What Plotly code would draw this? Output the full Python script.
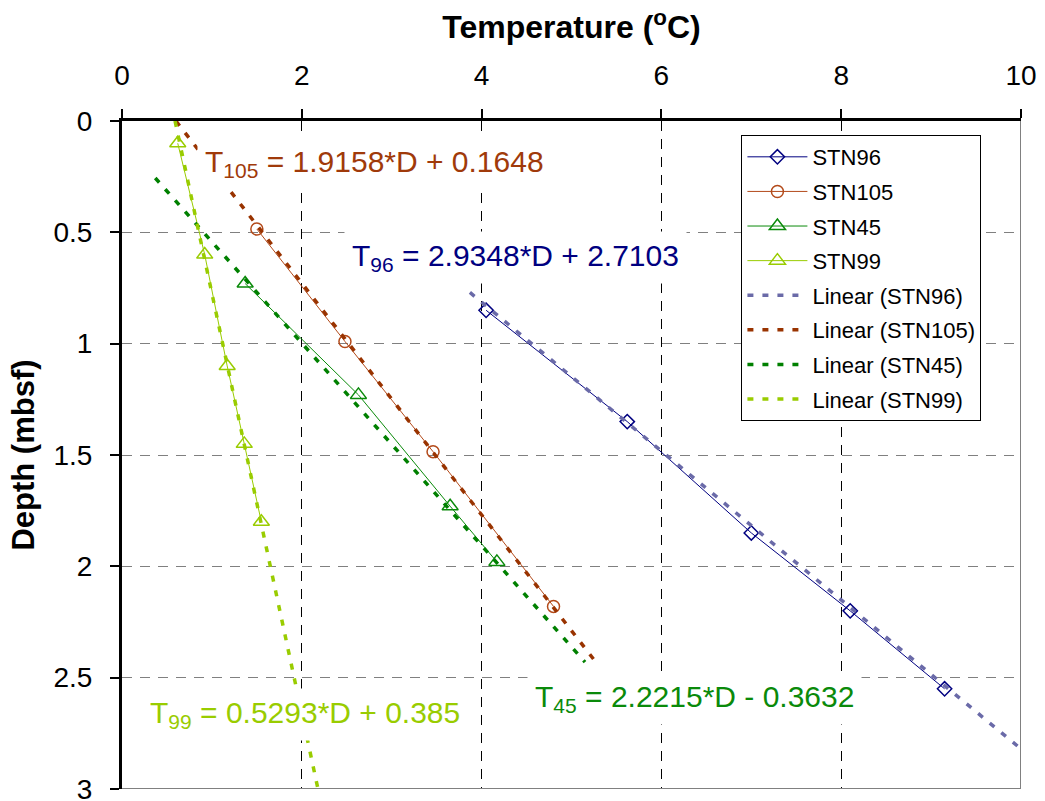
import plotly.graph_objects as go

# ---- data ----
stn96_T = [4.05, 5.62, 7.00, 8.10, 9.15]
stn96_D = [0.85, 1.35, 1.85, 2.20, 2.55]

stn105_T = [1.50, 2.48, 3.46, 4.80]
stn105_D = [0.485, 0.99, 1.485, 2.18]

stn45_T = [1.37, 2.63, 3.65, 4.17]
stn45_D = [0.73, 1.23, 1.73, 1.98]

stn99_T = [0.62, 0.92, 1.17, 1.36, 1.55]
stn99_D = [0.10, 0.60, 1.10, 1.45, 1.80]

# trend-line end points
trend96_T = [3.87, 10.0]
trend96_D = [0.77, 2.82]
trend105_T = [0.60, 5.29]
trend105_D = [0.00, 2.44]
trend45_T = [0.37, 5.15]
trend45_D = [0.256, 2.43]
trend99_T = [0.59, 2.18]
trend99_D = [0.00, 3.00]

x_ticks = [0, 2, 4, 6, 8, 10]
y_ticks = [0, 0.5, 1, 1.5, 2, 2.5, 3]
y_ticktext = ["0", "0.5", "1", "1.5", "2", "2.5", "3"]

FONT = "Liberation Sans, Arial, sans-serif"

fig = go.Figure()

series = [
    ("STN96", stn96_T, stn96_D, "#000080", "diamond-open", 11),
    ("STN105", stn105_T, stn105_D, "#b34a1a", "circle-open", 12),
    ("STN45", stn45_T, stn45_D, "#0a8a0a", "triangle-up-open", 14),
    ("STN99", stn99_T, stn99_D, "#99cc00", "triangle-up-open", 14),
]
for i, (name, t, d, col, sym, sz) in enumerate(series):
    fig.add_trace(go.Scatter(
        x=t, y=d, name=name, mode="lines+markers",
        line=dict(color=col, width=1),
        marker=dict(symbol=sym, size=sz, color=col, line=dict(color=col, width=1.5)),
        legendgroup="g%d" % i,
    ))

trends = [
    ("Linear (STN96)", trend96_T, trend96_D, "#6a6aa8"),
    ("Linear (STN105)", trend105_T, trend105_D, "#993300"),
    ("Linear (STN45)", trend45_T, trend45_D, "#008000"),
    ("Linear (STN99)", trend99_T, trend99_D, "#99cc00"),
]
for i, (name, t, d, col) in enumerate(trends):
    fig.add_trace(go.Scatter(
        x=t, y=d, name=name, mode="lines",
        line=dict(color=col, width=3.5, dash="6px,9px"),
        legendgroup="h%d" % i,
    ))

# equation labels
eqs = [
    ("T<sub>105</sub> = 1.9158*D + 0.1648", 0.83, 0.19, "#a03a0a"),
    ("T<sub>96</sub> = 2.9348*D + 2.7103", 2.47, 0.615, "#000080"),
    ("T<sub>45</sub> = 2.2215*D - 0.3632", 4.50, 2.595, "#0a8a0a"),
    ("T<sub>99</sub> = 0.5293*D + 0.385", 0.22, 2.665, "#99cc00"),
]
for txt, x, y, col in eqs:
    fig.add_annotation(
        x=x, y=y, xref="x", yref="y", text=txt, showarrow=False,
        xanchor="left", yanchor="middle",
        font=dict(family=FONT, size=30, color=col),
        bgcolor="white", borderpad=7,
    )

# right and bottom plot border (grey)
fig.add_shape(type="line", xref="x", yref="y", x0=10, x1=10, y0=0, y1=3,
              line=dict(color="#808080", width=2))
fig.add_shape(type="line", xref="x", yref="y", x0=0, x1=10, y0=3, y1=3,
              line=dict(color="#808080", width=2))

fig.update_layout(
    width=1045, height=801,
    margin=dict(l=122, r=24, t=121, b=12, autoexpand=False),
    paper_bgcolor="white", plot_bgcolor="white",
    font=dict(family=FONT, color="black"),
    showlegend=True,
    legend=dict(
        x=0.689, y=0.979, xanchor="left", yanchor="top",
        bgcolor="white", bordercolor="black", borderwidth=1,
        font=dict(family=FONT, size=22, color="black"),
        tracegroupgap=3, itemwidth=60,
    ),
    xaxis=dict(
        range=[0, 10], side="top", tickvals=x_ticks,
        showline=True, linecolor="black", linewidth=3,
        ticks="outside", ticklen=9, tickwidth=2, tickcolor="black",
        ticklabelstandoff=13, ticklabeloverflow="allow",
        tickfont=dict(family=FONT, size=28, color="black"),
        showgrid=True, gridcolor="black", gridwidth=1, griddash="10px,8px",
        zeroline=False,
        title=dict(text="<b>Temperature (<sup>o</sup>C)</b>",
                   font=dict(family=FONT, size=32, color="black"), standoff=12),
        automargin=False,
    ),
    yaxis=dict(
        range=[3, 0], tickvals=y_ticks, ticktext=y_ticktext,
        showline=True, linecolor="black", linewidth=3,
        ticks="outside", ticklen=9, tickwidth=2, tickcolor="black",
        ticklabelstandoff=12, ticklabeloverflow="allow",
        tickfont=dict(family=FONT, size=28, color="black"),
        showgrid=True, gridcolor="#808080", gridwidth=1, griddash="10px,8px",
        zeroline=False,
        title=dict(text="<b>Depth (mbsf)</b>",
                   font=dict(family=FONT, size=31, color="black"), standoff=10),
        automargin=False,
    ),
)

fig.write_html("out.html")
